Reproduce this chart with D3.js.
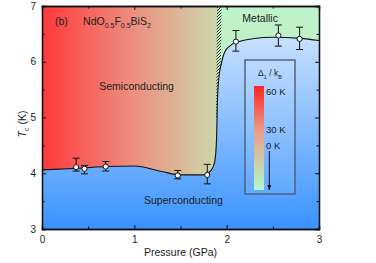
<!DOCTYPE html>
<html>
<head>
<meta charset="utf-8">
<script src="https://cdn.jsdelivr.net/npm/d3@7"></script>
<style>
  body { margin: 0; background: #fff; }
  text { font-family: "Liberation Sans", Arial, sans-serif; fill: #222; }
</style>
</head>
<body>
<div class="phase-diagram"></div>
<script>
// measured points
var pressure = [0.37, 0.46, 0.69, 1.47, 1.79, 2.10, 2.56, 2.79];
var tc = [4.11, 4.08, 4.12, 3.96, 3.97, 6.36, 6.47, 6.41];
var tcHigh = [4.27, 4.14, 4.21, 4.05, 4.16, 6.56, 6.66, 6.62];
var tcLow = [4.04, 3.99, 4.04, 3.90, 3.81, 6.19, 6.28, 6.22];

// superconducting boundary (guide to the eye)
var boundP = [0, 0.4, 0.7, 1.0, 1.3, 1.5, 1.75, 1.83, 1.87, 1.89, 1.9, 1.915, 1.94, 1.98, 2.04, 2.1, 2.5, 2.8, 3.0];
var boundT = [4.06, 4.09, 4.12, 4.13, 4.03, 3.97, 3.97, 4.05, 4.2, 4.6, 5.3, 5.7, 5.95, 6.18, 6.29, 6.35, 6.44, 6.42, 6.38];

// semiconducting / metallic crossover band
var bandP = [1.895, 1.945, 1.93, 1.885];
var bandT = [7, 7, 5.0, 5.0];

var xTicks = [0, 1, 2, 3];
var yTicks = [3, 4, 5, 6, 7];
var gapTicks = [60, 30, 0];

var margin = { top: 6, right: 57, bottom: 34, left: 42 };
var svgWidth = 376;
var svgHeight = 263;
var width = svgWidth - margin.left - margin.right;
var height = svgHeight - margin.top - margin.bottom;

var svg = d3.select('.phase-diagram')
  .append('svg')
  .attr('width', svgWidth)
  .attr('height', svgHeight);

var defs = svg.append('defs');

var semiGrad = defs.append('linearGradient')
  .attr('id', 'semi').attr('x1', '0%').attr('x2', '100%').attr('y1', '0%').attr('y2', '0%');
semiGrad.append('stop').attr('offset', '0%').attr('stop-color', '#ff383a');
semiGrad.append('stop').attr('offset', '50%').attr('stop-color', '#ee8c7e');
semiGrad.append('stop').attr('offset', '100%').attr('stop-color', '#ccd8ac');

var blueGrad = defs.append('linearGradient')
  .attr('id', 'blue').attr('gradientUnits', 'userSpaceOnUse')
  .attr('x1', 0).attr('x2', 0).attr('y1', 0).attr('y2', height);
blueGrad.append('stop').attr('offset', '0%').attr('stop-color', '#deedff');
blueGrad.append('stop').attr('offset', '100%').attr('stop-color', '#3a93ff');

var barGrad = defs.append('linearGradient')
  .attr('id', 'bar').attr('x1', '0%').attr('x2', '0%').attr('y1', '0%').attr('y2', '100%');
barGrad.append('stop').attr('offset', '0%').attr('stop-color', '#ff2424');
barGrad.append('stop').attr('offset', '45%').attr('stop-color', '#e9a08e');
barGrad.append('stop').attr('offset', '100%').attr('stop-color', '#b2f7c8');

var hatch = defs.append('pattern')
  .attr('id', 'hatch').attr('patternUnits', 'userSpaceOnUse')
  .attr('width', 3).attr('height', 3);
hatch.append('path').attr('d', 'M-1,1 L1,-1 M0,3 L3,0 M2,4 L4,2')
  .attr('stroke', '#222').attr('stroke-width', 0.9);

var canvas = svg.append('g')
  .attr('transform', 'translate(' + margin.left + ',' + margin.top + ')');

var xScale = d3.scaleLinear().domain([0, 3]).range([0, width]);
var yScale = d3.scaleLinear().domain([3, 7]).range([height, 0]);

// background regions
var bandX = d3.mean([bandP[2], bandP[3]]);
canvas.append('rect')
  .attr('x', 0).attr('y', 0)
  .attr('width', xScale(bandX)).attr('height', height)
  .attr('fill', 'url(#semi)');
canvas.append('rect')
  .attr('x', xScale(bandX)).attr('y', 0)
  .attr('width', width - xScale(bandX)).attr('height', height)
  .attr('fill', '#bff2c9');

canvas.append('polygon')
  .attr('points', bandP.map(function (p, i) { return xScale(p) + ',' + yScale(bandT[i]); }).join(' '))
  .attr('fill', 'url(#hatch)');

var bound = boundP.map(function (p, i) { return [p, boundT[i]]; });

var area = d3.area()
  .x(function (d) { return xScale(d[0]); })
  .y0(height)
  .y1(function (d) { return yScale(d[1]); })
  .curve(d3.curveMonotoneX);

canvas.append('path').datum(bound)
  .attr('d', area)
  .attr('fill', 'url(#blue)');

var line = d3.line()
  .x(function (d) { return xScale(d[0]); })
  .y(function (d) { return yScale(d[1]); })
  .curve(d3.curveMonotoneX);

canvas.append('path').datum(bound)
  .attr('d', line)
  .attr('fill', 'none')
  .attr('stroke', '#111')
  .attr('stroke-width', 1.1);

// error bars
var pts = canvas.selectAll('.pt')
  .data(pressure)
  .enter()
  .append('g')
  .attr('class', 'pt');

pts.append('line')
  .attr('x1', function (d) { return xScale(d); })
  .attr('x2', function (d) { return xScale(d); })
  .attr('y1', function (d, i) { return yScale(tcLow[i]); })
  .attr('y2', function (d, i) { return yScale(tcHigh[i]); })
  .attr('stroke', '#111').attr('stroke-width', 1);
pts.append('line')
  .attr('x1', function (d) { return xScale(d) - 3.5; })
  .attr('x2', function (d) { return xScale(d) + 3.5; })
  .attr('y1', function (d, i) { return yScale(tcLow[i]); })
  .attr('y2', function (d, i) { return yScale(tcLow[i]); })
  .attr('stroke', '#111').attr('stroke-width', 1);
pts.append('line')
  .attr('x1', function (d) { return xScale(d) - 3.5; })
  .attr('x2', function (d) { return xScale(d) + 3.5; })
  .attr('y1', function (d, i) { return yScale(tcHigh[i]); })
  .attr('y2', function (d, i) { return yScale(tcHigh[i]); })
  .attr('stroke', '#111').attr('stroke-width', 1);
pts.append('circle')
  .attr('cx', function (d) { return xScale(d); })
  .attr('cy', function (d, i) { return yScale(tc[i]); })
  .attr('r', 2.6)
  .attr('fill', '#fff')
  .attr('stroke', '#111')
  .attr('stroke-width', 1);

// legend / colour bar
var legend = canvas.append('g').attr('transform', 'translate(' + (245 - margin.left) + ',' + (60 - margin.top) + ')');
legend.append('rect')
  .attr('width', 50).attr('height', 134)
  .attr('fill', '#fff').attr('fill-opacity', 0.08)
  .attr('stroke', '#4d5c72').attr('stroke-width', 1.4);
var lt = legend.append('text').attr('x', 25).attr('y', 16).attr('text-anchor', 'middle').style('font-size', '8.5px');
lt.append('tspan').text('Δ');
lt.append('tspan').attr('dy', 2.5).style('font-size', '5.5px').text('1');
lt.append('tspan').attr('dy', -2.5).text(' / k');
lt.append('tspan').attr('dy', 2.5).style('font-size', '5.5px').text('B');
legend.append('rect')
  .attr('x', 9).attr('y', 26)
  .attr('width', 10).attr('height', 104)
  .attr('fill', 'url(#bar)');

var gapScale = d3.scaleLinear().domain([60, 30, 0]).range([31, 69, 85]);
legend.selectAll('.gap')
  .data(gapTicks)
  .enter()
  .append('text')
  .attr('x', 21)
  .attr('y', function (d) { return gapScale(d) + 3.5; })
  .style('font-size', '9.5px')
  .text(function (d) { return d + ' K'; });

defs.append('marker')
  .attr('id', 'arrow').attr('viewBox', '0 0 10 10')
  .attr('refX', 10).attr('refY', 5)
  .attr('markerWidth', 5).attr('markerHeight', 5)
  .attr('orient', 'auto')
  .append('path').attr('d', 'M0,1 L10,5 L0,9 Z').attr('fill', '#111');
legend.append('line')
  .attr('x1', 24.3).attr('x2', 24.3)
  .attr('y1', 91).attr('y2', 130)
  .attr('stroke', '#111').attr('stroke-width', 1)
  .attr('marker-end', 'url(#arrow)');

// region labels
canvas.append('text').attr('x', xScale(0.14)).attr('y', 19).style('font-size', '10.5px').text('(b)');
var title = canvas.append('text').attr('x', xScale(0.445)).attr('y', 19).style('font-size', '10.5px');
title.append('tspan').text('NdO');
title.append('tspan').attr('dy', 3).style('font-size', '7px').text('0.5');
title.append('tspan').attr('dy', -3).text('F');
title.append('tspan').attr('dy', 3).style('font-size', '7px').text('0.5');
title.append('tspan').attr('dy', -3).text('BiS');
title.append('tspan').attr('dy', 3).style('font-size', '7px').text('2');

canvas.append('text').attr('x', xScale(0.62)).attr('y', 84).style('font-size', '10.5px').text('Semiconducting');
canvas.append('text').attr('x', xScale(1.105)).attr('y', 198).style('font-size', '10.5px').text('Superconducting');
canvas.append('text').attr('x', xScale(2.17)).attr('y', 16).style('font-size', '10.5px').text('Metallic');

// axes, ticks inward
var xAxis = d3.axisBottom(xScale).tickValues(xTicks).tickSize(-4).tickPadding(7).tickFormat(d3.format('d'));
var yAxis = d3.axisLeft(yScale).tickValues(yTicks).tickSize(-4).tickPadding(6).tickFormat(d3.format('d'));

canvas.append('g').attr('class', 'x axis')
  .attr('transform', 'translate(0,' + height + ')')
  .call(xAxis);
canvas.append('g').attr('class', 'x minor')
  .attr('transform', 'translate(0,' + height + ')')
  .call(d3.axisBottom(xScale).tickValues([0.5, 1.5, 2.5]).tickSize(-2.5).tickFormat(''));
canvas.append('g').attr('class', 'x top')
  .call(d3.axisTop(xScale).tickValues(xTicks).tickSize(-4).tickFormat(''));
canvas.append('g').attr('class', 'x top')
  .call(d3.axisTop(xScale).tickValues([0.5, 1.5, 2.5]).tickSize(-2.5).tickFormat(''));

canvas.append('g').attr('class', 'y axis').call(yAxis);
canvas.append('g').attr('class', 'y minor')
  .call(d3.axisLeft(yScale).tickValues([3.5, 4.5, 5.5, 6.5]).tickSize(-2.5).tickFormat(''));
canvas.append('g').attr('class', 'y right')
  .attr('transform', 'translate(' + width + ',0)')
  .call(d3.axisRight(yScale).tickValues(yTicks).tickSize(-4).tickFormat(''));
canvas.append('g').attr('class', 'y right')
  .attr('transform', 'translate(' + width + ',0)')
  .call(d3.axisRight(yScale).tickValues([3.5, 4.5, 5.5, 6.5]).tickSize(-2.5).tickFormat(''));

canvas.selectAll('.domain').attr('stroke', '#111').attr('stroke-width', 1.3);
canvas.selectAll('.tick line').attr('stroke', '#111').attr('stroke-width', 1);
canvas.selectAll('.axis .tick text')
  .style('font-size', '10px')
  .style('font-family', '"Liberation Sans", Arial, sans-serif')
  .attr('fill', '#222');

// axis titles
canvas.append('text')
  .attr('x', width / 2).attr('y', height + 27)
  .attr('text-anchor', 'middle')
  .style('font-size', '10.5px')
  .text('Pressure (GPa)');

var yl = canvas.append('text')
  .attr('transform', 'translate(' + (26 - margin.left) + ',' + (124 - margin.top) + ') rotate(-90)')
  .attr('text-anchor', 'middle')
  .style('font-size', '10.5px');
yl.append('tspan').style('font-style', 'italic').text('T');
yl.append('tspan').attr('dy', 2.5).style('font-size', '7px').text('c');
yl.append('tspan').attr('dy', -2.5).text(' (K)');
</script>
</body>
</html>
